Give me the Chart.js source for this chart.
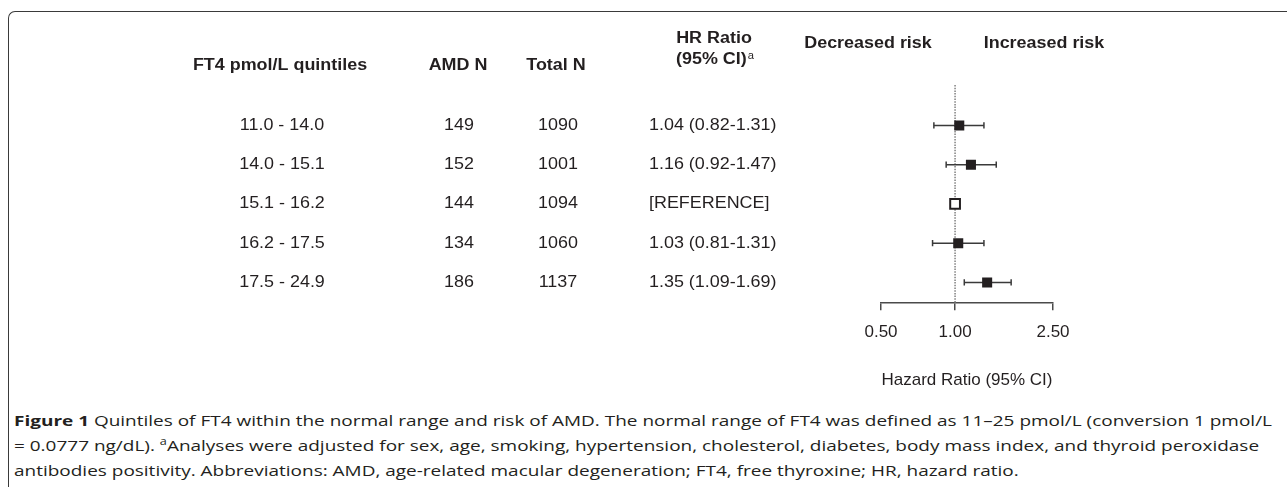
<!DOCTYPE html>
<html>
<head>
<meta charset="utf-8">
<script src="https://cdn.jsdelivr.net/npm/chart.js@4.4.1/dist/chart.umd.min.js"></script>
<style>
	html, body { margin: 0; padding: 0; background: #fff; }
	body { width: 1287px; height: 487px; position: relative; overflow: hidden; }
	#frame {
		position: absolute; left: 8px; top: 11px; width: 1400px; height: 700px;
		border-left: 1.6px solid #3a3a3a; border-top: 1.6px solid #3a3a3a;
		border-top-left-radius: 7px; box-sizing: border-box;
	}
	#wrap { position: absolute; left: 0; top: 0; width: 1287px; height: 400px; }
	#caption {
		position: absolute; left: 14px; top: 408px; color: #231f20;
		font-family: "Open Sans", sans-serif; font-size: 15px; line-height: 25px; white-space: nowrap;
	}
	#caption .cl { display: block; width: max-content; transform-origin: 0 50%; }
	#caption sup { font-size: 10px; vertical-align: 6px; line-height: 0; }
</style>
</head>
<body>
<div id="frame"></div>
<div id="wrap"><canvas id="forest" width="1287" height="400"></canvas></div>
<div id="caption">
	<div class="cl"><b>Figure 1</b> Quintiles of FT4 within the normal range and risk of AMD. The normal range of FT4 was defined as 11–25 pmol/L (conversion 1 pmol/L</div>
	<div class="cl">= 0.0777 ng/dL). <sup>a</sup>Analyses were adjusted for sex, age, smoking, hypertension, cholesterol, diabetes, body mass index, and thyroid peroxidase</div>
	<div class="cl">antibodies positivity. Abbreviations: AMD, age-related macular degeneration; FT4, free thyroxine; HR, hazard ratio.</div>
</div>
<script>
// table rows
const quintiles = ['11.0 - 14.0', '14.0 - 15.1', '15.1 - 16.2', '16.2 - 17.5', '17.5 - 24.9'];
const amdN = [149, 152, 144, 134, 186];
const totalN = [1090, 1001, 1094, 1060, 1137];

// hazard ratios and 95% CI, reference row has no interval
const hr = [1.04, 1.16, 1.00, 1.03, 1.35];
const ciLow = [0.82, 0.92, null, 0.81, 1.09];
const ciHigh = [1.31, 1.47, null, 1.31, 1.69];

// axis
const xTicks = [0.50, 1.00, 2.50];
const xMin = 0.5;
const xMax = 2.5;
const yMin = -0.03;
const yMax = 5.53;

const INK = '#231f20';
const SX = 1.12; // source text is slightly wide
const FONT = '"Liberation Sans", Arial, Helvetica, sans-serif';

const fmt = function ( v ) {
	return v.toFixed( 2 );
};

const hrText = hr.map( function ( v, i ) {
	if ( ciLow[i] === null )
		return '[REFERENCE]';
	return fmt( v ) + ' (' + fmt( ciLow[i] ) + '-' + fmt( ciHigh[i] ) + ')';
} );

// draw one text item, stretched a little horizontally
function drawText( ctx, s, x, y, opt ) {
	ctx.save();
	ctx.font = ( opt.bold ? 'bold ' : '' ) + opt.size + 'px ' + FONT;
	const w = ctx.measureText( s ).width * SX;
	let left = x;
	if ( opt.align === 'center' )
		left = x - w / 2;
	else if ( opt.align === 'right' )
		left = x - w;
	ctx.translate( left, y );
	ctx.scale( SX, 1 );
	ctx.textAlign = 'left';
	ctx.textBaseline = 'middle';
	ctx.fillStyle = INK;
	ctx.fillText( s, 0, 0 );
	ctx.restore();
	return w;
}

// table columns + headers
const tablePlugin = {
	id: 'forestTable',
	afterDraw: function ( chart ) {
		const ctx = chart.ctx;
		const y = chart.scales.y;

		// headers
		drawText( ctx, 'FT4 pmol/L quintiles', 280, 66, {bold: true, size: 16, align: 'center'} );
		drawText( ctx, 'AMD N', 458, 66, {bold: true, size: 16, align: 'center'} );
		drawText( ctx, 'Total N', 556, 66, {bold: true, size: 16, align: 'center'} );
		drawText( ctx, 'HR Ratio', 714, 39, {bold: true, size: 16, align: 'center'} );
		const w = drawText( ctx, '(95% CI)', 676, 60, {bold: true, size: 16, align: 'left'} );
		drawText( ctx, 'a', 676 + w + 1, 56, {bold: false, size: 10, align: 'left'} );
		drawText( ctx, 'Decreased risk', 868, 44, {bold: true, size: 16, align: 'center'} );
		drawText( ctx, 'Increased risk', 1044, 44, {bold: true, size: 16, align: 'center'} );

		// rows
		quintiles.forEach( function ( q, i ) {
			const py = y.getPixelForValue( i + 1 );
			drawText( ctx, q, 282, py, {size: 16, align: 'center'} );
			drawText( ctx, String( amdN[i] ), 459, py, {size: 16, align: 'center'} );
			drawText( ctx, String( totalN[i] ), 558, py, {size: 16, align: 'center'} );
			drawText( ctx, hrText[i], 649, py, {size: 16, align: 'left'} );
		} );
	}
};

const datasets = [];

// dotted line of no effect
datasets.push( {
	data: [{x: 1, y: yMin}, {x: 1, y: yMax}],
	showLine: true,
	borderColor: '#8f8f8f',
	borderWidth: 1.7,
	borderDash: [1.5, 1.2],
	pointRadius: 0,
	order: 3
} );

// confidence intervals with end caps
quintiles.forEach( function ( q, i ) {
	if ( ciLow[i] === null )
		return;
	datasets.push( {
		data: [{x: ciLow[i], y: i + 1}, {x: ciHigh[i], y: i + 1}],
		showLine: true,
		borderColor: '#3a3a3a',
		borderWidth: 1.5,
		pointStyle: 'line',
		rotation: 90,
		pointRadius: 3.2,
		pointBorderColor: '#3a3a3a',
		pointBorderWidth: 1.5,
		order: 2
	} );
} );

// point estimates
datasets.push( {
	data: hr.map( function ( v, i ) {
		return ciLow[i] === null ? null : {x: v, y: i + 1};
	} ).filter( Boolean ),
	pointStyle: 'rect',
	pointRadius: 7.1,
	pointBackgroundColor: INK,
	pointBorderColor: INK,
	pointBorderWidth: 0,
	order: 1
} );

// reference category
datasets.push( {
	data: hr.map( function ( v, i ) {
		return ciLow[i] === null ? {x: v, y: i + 1} : null;
	} ).filter( Boolean ),
	pointStyle: 'rect',
	pointRadius: 6.9,
	pointBackgroundColor: '#ffffff',
	pointBorderColor: INK,
	pointBorderWidth: 2,
	order: 0
} );

new Chart( document.getElementById( 'forest' ).getContext( '2d' ), {
	type: 'scatter',
	data: {datasets: datasets},
	plugins: [tablePlugin],
	options: {
		responsive: false,
		animation: false,
		events: [],
		layout: {
			padding: {left: 881, right: 234, top: 85, bottom: 5}
		},
		plugins: {
			legend: {display: false},
			tooltip: {enabled: false}
		},
		scales: {
			x: {
				type: 'logarithmic',
				position: 'bottom',
				min: xMin,
				max: xMax,
				afterBuildTicks: function ( scale ) {
					scale.ticks = xTicks.map( function ( v ) {
						return {value: v};
					} );
				},
				ticks: {
					callback: function ( v ) {
						return Number( v ).toFixed( 2 );
					},
					autoSkip: false,
					maxRotation: 0,
					padding: 12,
					color: INK,
					font: {family: FONT, size: 17}
				},
				grid: {
					drawOnChartArea: false,
					drawTicks: true,
					tickLength: 7,
					color: '#4a4a4a',
					lineWidth: 1.5
				},
				border: {display: true, color: '#4a4a4a', width: 1.5},
				title: {
					display: true,
					text: 'Hazard Ratio (95% CI)',
					color: INK,
					font: {family: FONT, size: 17},
					padding: {top: 16, bottom: 4}
				}
			},
			y: {
				type: 'linear',
				min: yMin,
				max: yMax,
				reverse: true,
				display: false
			}
		}
	}
} );

// fit the caption lines to the source width
function fitCaption() {
	const lines = document.querySelectorAll( '#caption .cl' );
	lines.forEach( function ( l ) {
		l.style.transform = 'none';
	} );
	const k = 1258 / lines[0].getBoundingClientRect().width;
	lines.forEach( function ( l ) {
		l.style.transform = 'scaleX(' + k + ')';
	} );
}
fitCaption();
if ( document.fonts && document.fonts.ready )
	document.fonts.ready.then( fitCaption );
</script>
</body>
</html>
